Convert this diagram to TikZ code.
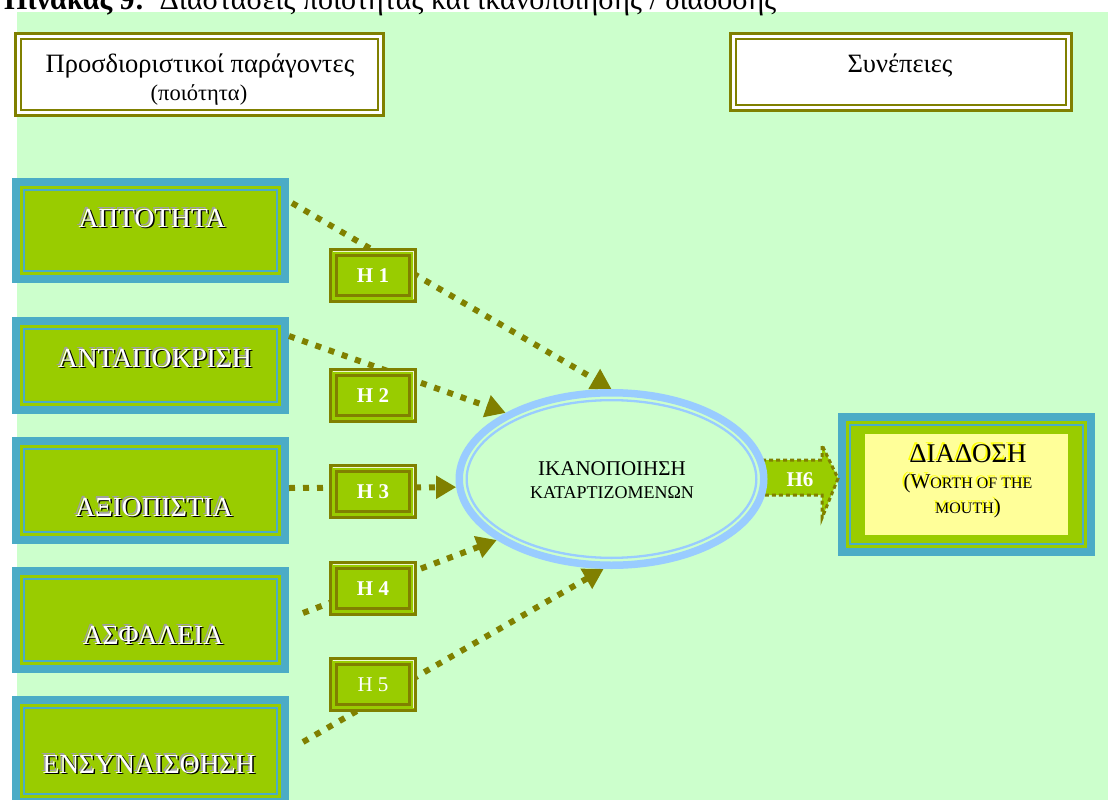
\documentclass[tikz,border=0pt]{standalone}
\usepackage{fontspec}
\setmainfont{Liberation Serif}
\usetikzlibrary{shapes.geometric,arrows.meta,calc}

\definecolor{bgmint}{HTML}{CCFFCC}
\definecolor{oliveline}{HTML}{808000}
\definecolor{leafgreen}{HTML}{99CC00}
\definecolor{tealblue}{HTML}{4BACC6}
\definecolor{skyblue}{HTML}{99CCFF}
\definecolor{paleyellow}{HTML}{FFFF99}
\definecolor{glowyellow}{HTML}{FFFF00}
\definecolor{embossgray}{HTML}{A0A0A0}
\definecolor{paleline}{HTML}{EEF7D0}

% white lettering with a grey and a black offset copy
\newcommand\emboss[1]{%
  \rlap{\kern-1.6pt\raisebox{1.4pt}{\textcolor{embossgray}{#1}}}%
  \rlap{\kern1.5pt\raisebox{-1.5pt}{\textcolor{black}{#1}}}%
  \textcolor{white}{#1}}
% black lettering with a yellow offset copy
\newcommand\glow[1]{%
  \rlap{\kern-1.8pt\raisebox{1.6pt}{\textcolor{glowyellow}{#1}}}%
  \textcolor{black}{#1}}
\newcommand\fsz[1]{\fontsize{#1}{#1}\selectfont}

% inner bands of a framed factor box
\newcommand\factorlayers[1]{%
  \fill[leafgreen] ([shift={(8pt,8pt)}]#1.south west) rectangle ([shift={(-8pt,-8pt)}]#1.north east);
  \draw[tealblue, line width=2pt] ([shift={(12pt,12pt)}]#1.south west) rectangle ([shift={(-12pt,-12pt)}]#1.north east);
}
% inner frame of a hypothesis tag
\newcommand\taglayers[1]{%
  \draw[paleline, line width=0.9pt] ([shift={(3.8pt,-3.8pt)}]#1.north west) -- ([shift={(-3.8pt,-3.8pt)}]#1.north east) -- ([shift={(-3.8pt,3.8pt)}]#1.south east);
  \draw[oliveline, line width=3pt] ([shift={(7.5pt,7.5pt)}]#1.south west) rectangle ([shift={(-7.5pt,-7.5pt)}]#1.north east);
}
% inner frame of a heading box
\newcommand\headlayers[1]{%
  \draw[oliveline, line width=2.3pt] ([shift={(6.85pt,6.85pt)}]#1.south west) rectangle ([shift={(-6.85pt,-6.85pt)}]#1.north east);
}

\begin{document}
\begin{tikzpicture}[x=1pt,y=-1pt,
  headbox/.style={rectangle, fill=white, draw=oliveline, line width=3.3pt, inner sep=0pt},
  factorbox/.style={rectangle, fill=tealblue, inner sep=0pt, outer sep=0pt, minimum width=277pt},
  factortext/.style={anchor=base, inner sep=0pt, font=\fsz{27.5}},
  tagbox/.style={rectangle, fill=leafgreen, draw=oliveline, line width=3pt, inner sep=0pt,
    minimum width=85pt, minimum height=52pt, text=white, font=\bfseries\fsz{21}},
  plaintext/.style={anchor=base, inner sep=0pt, text=black},
  link/.style={draw=oliveline, line width=6pt, dash pattern=on 6pt off 8pt,
    -{Triangle[length=20pt,width=22pt]}},
  blockarrow/.style={fill=leafgreen, draw=oliveline, line width=3pt, dash pattern=on 4pt off 3pt}
]
\useasboundingbox (0,0) rectangle (1108,800);
\fill[bgmint] (17,12) rectangle (1108,800);

% caption
\node[anchor=base west, inner sep=0pt, font=\fsz{30}] (caption) at (4,9.5)
  {\textbf{Πίνακας 9:}\ \ Διαστάσεις ποιότητας και ικανοποίησης / διάδοσης};

% column headings
\node[headbox, minimum width=367.7pt, minimum height=81.7pt] (hq) at (199.5,74.5) {};
\headlayers{hq}
\node[headbox, minimum width=340.7pt, minimum height=76.7pt] (hc) at (901,72) {};
\headlayers{hc}
\node[plaintext, font=\fsz{26.5}] (hqa) at (200,73) {Προσδιοριστικοί παράγοντες};
\node[plaintext, font=\fsz{22.5}] (hqb) at (199,100) {(ποιότητα)};
\node[plaintext, font=\fsz{26.5}] (hca) at (900,73) {Συνέπειες};

% quality factors
\node[factorbox, minimum height=105pt] (b1) at (150.5,230.5) {};
\factorlayers{b1}
\node[factorbox, minimum height=97pt] (b2) at (150.5,365.5) {};
\factorlayers{b2}
\node[factorbox, minimum height=107pt] (b3) at (150.5,490.5) {};
\factorlayers{b3}
\node[factorbox, minimum height=106pt] (b4) at (150.5,620) {};
\factorlayers{b4}
\node[factorbox, minimum height=110pt] (b5) at (150.5,751) {};
\factorlayers{b5}
\node[factortext] (t1) at (152,227) {\emboss{ΑΠΤΟΤΗΤΑ}};
\node[factortext] (t2) at (155,367) {\emboss{ΑΝΤΑΠΟΚΡΙΣΗ}};
\node[factortext] (t3) at (154,516) {\emboss{ΑΞΙΟΠΙΣΤΙΑ}};
\node[factortext] (t4) at (153,644) {\emboss{ΑΣΦΑΛΕΙΑ}};
\node[factortext] (t5) at (149,773) {\emboss{ΕΝΣΥΝΑΙΣΘΗΣΗ}};

% consequence box
\node[factorbox, minimum width=257pt, minimum height=143pt] (dd) at (966.5,484.5) {};
\fill[leafgreen] ([shift={(8pt,8pt)}]dd.south west) rectangle ([shift={(-8pt,-8pt)}]dd.north east);
\draw[tealblue, line width=2pt] ([shift={(12pt,12pt)}]dd.south west) rectangle ([shift={(-12pt,-12pt)}]dd.north east);
\fill[paleyellow] ([shift={(27pt,21pt)}]dd.south west) rectangle ([shift={(-27pt,-21pt)}]dd.north east);
\node[plaintext, font=\fsz{27}] (dda) at (968,462) {\glow{ΔΙΑΔΟΣΗ}};
\node[plaintext] (ddb) at (968,488) {\glow{\fsz{21}(W\fsz{16}ORTH OF THE}};
\node[plaintext] (ddc) at (968,513) {\glow{\fsz{16}MOUTH\fsz{21})}};

% block arrow H6 into the consequence box
\path (dd.west) ++(0pt,6pt) coordinate (h6tip);
\filldraw[blockarrow]
  ($(h6tip)+(-83pt,18.5pt)$) -- ($(h6tip)+(-16pt,18.5pt)$) -- ($(h6tip)+(-16pt,33.5pt)$)
  -- (h6tip) -- ($(h6tip)+(-16pt,-39.5pt)$) -- ($(h6tip)+(-16pt,-16.5pt)$)
  -- ($(h6tip)+(-83pt,-16.5pt)$);

% satisfaction ellipse
\node[ellipse, draw=skyblue, line width=7.5pt, fill=bgmint, inner sep=0pt,
  minimum width=304.5pt, minimum height=172.5pt] (el) at (611.5,479) {};
\draw[skyblue, line width=2.3pt] (el.center) ellipse [x radius=144.85pt, y radius=78.85pt];
\node[plaintext, font=\fsz{21}] (ela) at (612,475) {ΙΚΑΝΟΠΟΙΗΣΗ};
\node[plaintext, font=\fsz{18}] (elb) at (612,498) {ΚΑΤΑΡΤΙΖΟΜΕΝΩΝ};
\node[text=white, font=\bfseries\fsz{21}, inner sep=0pt] (h6) at (800,480) {H6};

% hypothesised paths
\coordinate (s1) at (292,203);
\coordinate (s2) at (289,336);
\coordinate (s3) at (289,488);
\coordinate (s4) at (303,613);
\coordinate (s5) at (303,742);
\draw[link] (s1) -- (el.90);
\draw[link] (s2) -- (el.148.6);
\draw[link] (s3) -- (el.183.3);
\draw[link] (s4) -- (el.208.8);
\draw[link] (s5) -- (el.265);

% hypothesis tags
\node[tagbox] (g1) at (373,275.5) {H 1};
\taglayers{g1}
\node[tagbox] (g2) at (373,395.5) {H 2};
\taglayers{g2}
\node[tagbox] (g3) at (373,491.5) {H 3};
\taglayers{g3}
\node[tagbox] (g4) at (373,588.5) {H 4};
\taglayers{g4}
\node[tagbox, font=\fsz{21}] (g5) at (373,684.5) {H 5};
\taglayers{g5}
\end{tikzpicture}
\end{document}
